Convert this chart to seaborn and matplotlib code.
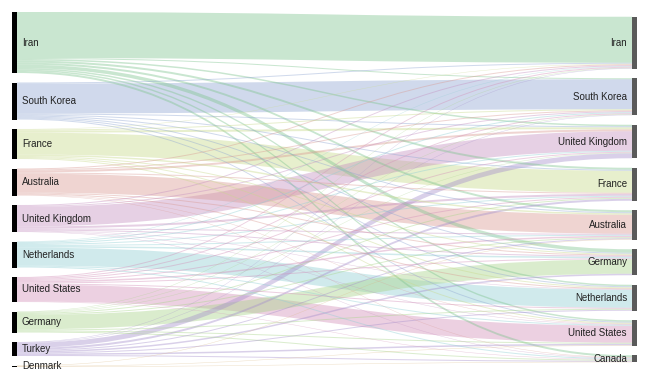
import numpy as np
import pandas as pd
import matplotlib
matplotlib.use("Agg")
import matplotlib.pyplot as plt
import seaborn as sns
from matplotlib.path import Path
from matplotlib.patches import PathPatch, Rectangle

# ---------------- data ----------------
sources = ["Iran", "South Korea", "France", "Australia", "United Kingdom",
           "Netherlands", "United States", "Germany", "Turkey", "Denmark"]
targets = ["Iran", "South Korea", "United Kingdom", "France", "Australia",
           "Germany", "Netherlands", "United States", "Canada"]

# flows from each source to targets (in target order above)
iran_out        = [46, 1, 1.5, 2, 2, 3.5, 1.5, 1.5, 2]
south_korea_out = [1, 30, 1, 1, 1, 1, 1, 1, 0]
france_out      = [0.5, 1, 2, 22, 1.5, 1, 1, 1, 0]
australia_out   = [1, 1, 2, 1, 19, 1, 1, 0.5, 0.5]
uk_out          = [1, 1, 19.5, 2, 1, 1, 0.5, 0.5, 0.5]
netherlands_out = [0.5, 1, 1, 1, 1, 1.5, 18, 1, 1]
us_out          = [1, 1, 1, 1, 1.5, 1, 1, 17, 0.5]
germany_out     = [0.5, 0.5, 0.5, 1, 1, 14.5, 1, 1, 1]
turkey_out      = [0.5, 0.5, 5, 2, 1, 1.5, 1, 1.5, 1]
denmark_out     = [0, 0, 0, 0, 0.5, 0, 0, 0.5, 0.5]

source_colors = ["#7fc48f", "#8fa6d2", "#c8d98a", "#d99a93", "#c48fc0",
                 "#8fcfd4", "#d38fb8", "#a8d48a", "#a58fcc", "#d9b57f"]

rows = [iran_out, south_korea_out, france_out, australia_out, uk_out,
        netherlands_out, us_out, germany_out, turkey_out, denmark_out]
records = []
for si, row in enumerate(rows):
    for ti, v in enumerate(row):
        if v > 0:
            records.append(dict(src=si, tgt=ti, value=v))
flows = pd.DataFrame(records)

# ---------------- style ----------------
sns.set_theme(style="white")
plt.rcParams["font.family"] = ["Liberation Sans", "DejaVu Sans"]
palette = sns.color_palette(source_colors)

fig = plt.figure(figsize=(6.5, 3.74), dpi=100)
ax = fig.add_axes([0, 0, 1, 1])
ax.set_xlim(0, 650)
ax.set_ylim(374, 0)
ax.axis("off")

# ---------------- layout ----------------
top, bottom, pad = 12, 367, 9.5
x_left0, x_left1 = 12, 17
x_right0, x_right1 = 632, 637

src_tot = flows.groupby("src")["value"].sum().reindex(range(len(sources))).fillna(0).values
tgt_tot = flows.groupby("tgt")["value"].sum().reindex(range(len(targets))).fillna(0).values
total = src_tot.sum()
k = (bottom - top - pad * (len(sources) - 1)) / total

src_y = []
y = top
for t in src_tot:
    src_y.append(y)
    y += t * k + pad
right_h = tgt_tot.sum() * k + pad * (len(targets) - 1)
y = top + (bottom - top - right_h) / 2
tgt_y = []
for t in tgt_tot:
    tgt_y.append(y)
    y += t * k + pad

# link offsets
flows = flows.copy()
flows["s0"] = 0.0
flows["t0"] = 0.0
for si in range(len(sources)):
    off = src_y[si]
    for idx in flows[flows.src == si].sort_values("tgt").index:
        flows.at[idx, "s0"] = off
        off += flows.at[idx, "value"] * k
for ti in range(len(targets)):
    off = tgt_y[ti]
    for idx in flows[flows.tgt == ti].sort_values("src").index:
        flows.at[idx, "t0"] = off
        off += flows.at[idx, "value"] * k

# ---------------- draw links ----------------
xa, xb = x_left1, x_right0
xm = (xa + xb) / 2
for _, f in flows.sort_values("value", ascending=False).iterrows():
    h = f.value * k
    s0, t0 = f.s0, f.t0
    s1, t1 = s0 + h, t0 + h
    verts = [(xa, s0), (xm, s0), (xm, t0), (xb, t0),
             (xb, t1), (xm, t1), (xm, s1), (xa, s1), (xa, s0)]
    codes = [Path.MOVETO, Path.CURVE4, Path.CURVE4, Path.CURVE4,
             Path.LINETO, Path.CURVE4, Path.CURVE4, Path.CURVE4, Path.CLOSEPOLY]
    ax.add_patch(PathPatch(Path(verts, codes), facecolor=palette[int(f.src)],
                           edgecolor="none", alpha=0.42, zorder=1))

# ---------------- nodes & labels ----------------
for si, name in enumerate(sources):
    h = src_tot[si] * k
    ax.add_patch(Rectangle((x_left0, src_y[si]), x_left1 - x_left0, h,
                           facecolor="black", edgecolor="none", zorder=3))
    ax.text(x_left1 + 5, src_y[si] + h / 2, name, ha="left", va="center",
            fontsize=7, color="#222222", zorder=4)
for ti, name in enumerate(targets):
    h = tgt_tot[ti] * k
    ax.add_patch(Rectangle((x_right0, tgt_y[ti]), x_right1 - x_right0, h,
                           facecolor="#5a5a5a", edgecolor="none", zorder=3))
    ax.text(x_right0 - 5, tgt_y[ti] + h / 2, name, ha="right", va="center",
            fontsize=7, color="#222222", zorder=4)

fig.savefig("out.png", dpi=100)
